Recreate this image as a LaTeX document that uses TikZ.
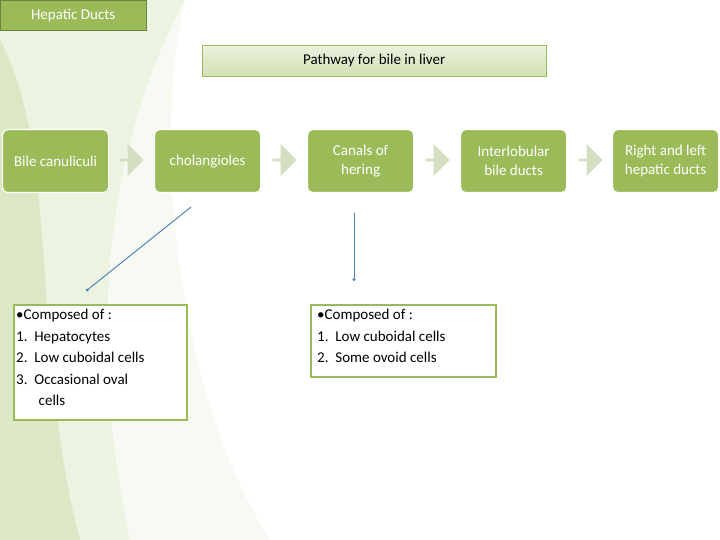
\documentclass[tikz,border=0pt]{standalone}
\usepackage{fontspec}
\setmainfont{Carlito}
\usetikzlibrary{shapes.arrows,arrows.meta}
\definecolor{gbox}{HTML}{9BBB59}
\definecolor{gchev}{HTML}{D3DFC0}
\definecolor{lnk}{HTML}{4F81BD}
\begin{document}
\begin{tikzpicture}[x=1pt,y=-1pt,
 stepbox/.style={draw=white,line width=1.2pt,fill=gbox,rounded corners=5pt,minimum width=106pt,minimum height=63pt,text=white,align=center,font=\fontsize{15}{19}\selectfont,anchor=north west,inner sep=2pt},
 chev/.style={single arrow,fill=gchev,draw=none,minimum width=32pt,single arrow head extend=2pt,minimum height=24pt,inner sep=0pt},
 info/.style={draw=gbox,line width=2pt,fill=white,anchor=north west,inner sep=4pt},
 txt/.style={anchor=north west,align=left,font=\fontsize{15}{21.5}\selectfont,inner sep=0pt},
 lk/.style={draw=lnk,line width=1pt,-{Circle[length=3pt]}}]
\useasboundingbox (0,0) rectangle (720,540);
\fill[white] (0,0) rectangle (720,540);
% decorative background swoosh
\fill[gbox!18] (0,0) -- (185,0) .. controls (120,120) and (80,300) .. (130,540) -- (0,540) -- cycle;
\fill[gbox!35] (0,40) .. controls (60,150) and (30,350) .. (80,540) -- (0,540) -- cycle;
\fill[gbox!8] (185,0) .. controls (150,150) and (180,400) .. (270,540) -- (130,540) .. controls (80,300) and (120,120) .. (185,0);
\node[fill=gbox,draw=gbox!70!black,anchor=north west,minimum width=146pt,minimum height=30pt,text=white,font=\fontsize{15}{18}\selectfont] (tab) at (0,0) {Hepatic Ducts};
\node[draw=gbox,top color=gbox!20,bottom color=gbox!45,anchor=north west,minimum width=344pt,minimum height=31pt,font=\fontsize{15}{18}\selectfont] (title) at (202,45) {Pathway for bile in liver};
\node[stepbox] (b1) at (2,129) {Bile canuliculi};
\node[stepbox] (b2) at (154,129) {cholangioles};
\node[stepbox] (b3) at (307,129) {Canals of\\hering};
\node[stepbox] (b4) at (460,129) {Interlobular\\bile ducts};
\node[stepbox] (b5) at (612,129) {Right and left\\hepatic ducts};
\node[chev] (c1) at (131,160) {};
\node[chev] (c2) at (284,160) {};
\node[chev] (c3) at (437,160) {};
\node[chev] (c4) at (590,160) {};
\node[info,minimum width=173pt,minimum height=115pt] (i1) at (13,304) {};
\node[txt] (t1) at (16,309) {•Composed of :\\
1.\ \ Hepatocytes\\2.\ \ Low cuboidal cells\\3.\ \ Occasional oval\\\hspace*{1.5em}cells};
\node[info,minimum width=185pt,minimum height=72pt] (i2) at (310,304) {};
\node[txt] (t2) at (317,309) {•Composed of :\\
1.\ \ Low cuboidal cells\\2.\ \ Some ovoid cells};
\coordinate (s1) at (191,207);
\coordinate (e1) at (86,291);
\coordinate (s2) at (354,213);
\coordinate (e2) at (354,281);
\draw[lk] (s1) -- (e1);
\draw[lk] (s2) -- (e2);
\end{tikzpicture}
\end{document}
